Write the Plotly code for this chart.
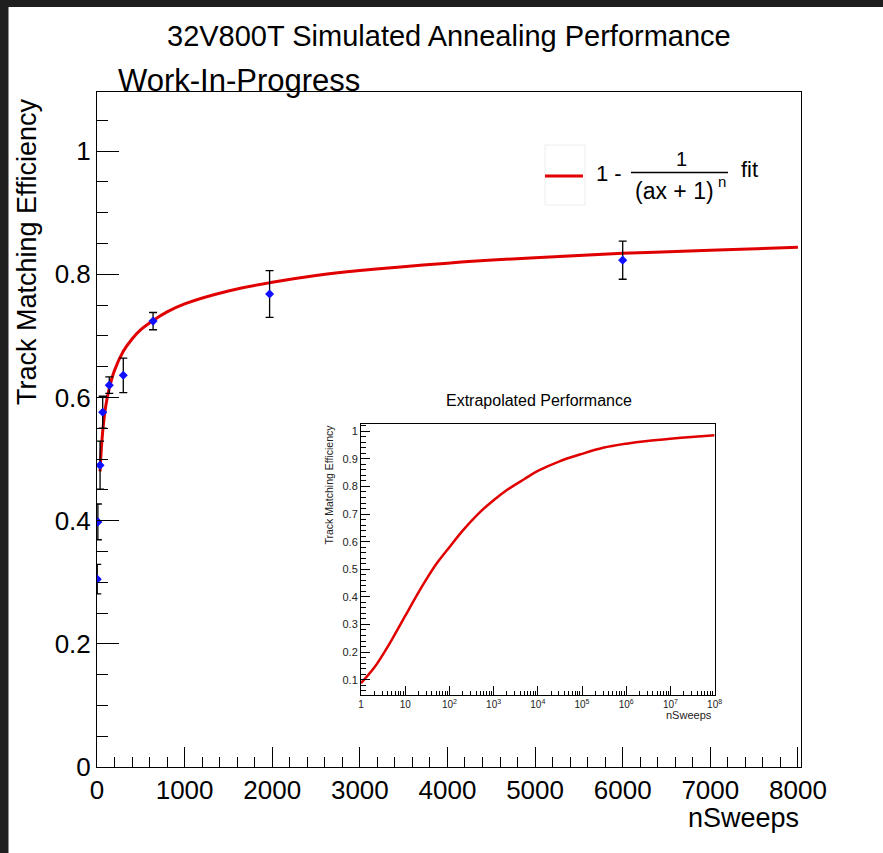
import plotly.graph_objects as go

# ---------------- data ----------------
sweeps = [3, 10, 35, 65, 140, 300, 640, 1970, 6000]
efficiency = [0.305, 0.398, 0.490, 0.576, 0.620, 0.636, 0.724, 0.768, 0.823]
efficiency_err = [0.024, 0.029, 0.039, 0.026, 0.0135, 0.028, 0.014, 0.038, 0.031]

fit_x = [35, 50, 70, 100, 140, 200, 300, 400, 500, 640, 800, 1000, 1500, 2000,
         2500, 3000, 4000, 5000, 6000, 7000, 8000]
fit_y = [0.480, 0.518, 0.552, 0.586, 0.615, 0.644, 0.675, 0.695, 0.710, 0.725,
         0.739, 0.752, 0.773, 0.787, 0.798, 0.806, 0.818, 0.827, 0.834, 0.839, 0.844]

extrap_x = [1, 2, 3, 5, 10, 20, 30, 50, 100, 200, 500, 1e3, 2e3, 5e3, 1e4, 3e4,
            1e5, 3e5, 1e6, 3e6, 1e7, 3e7, 1e8]
extrap_y = [0.087, 0.144, 0.186, 0.245, 0.331, 0.416, 0.463, 0.518, 0.580, 0.640,
            0.708, 0.750, 0.787, 0.827, 0.856, 0.890, 0.918, 0.940, 0.955, 0.965,
            0.973, 0.979, 0.985]

main_xticks = [0, 1000, 2000, 3000, 4000, 5000, 6000, 7000, 8000]
inset_xticks = [1, 10, 1e2, 1e3, 1e4, 1e5, 1e6, 1e7, 1e8]
inset_xticktext = ["1", "10", "10<sup>2</sup>", "10<sup>3</sup>", "10<sup>4</sup>",
                   "10<sup>5</sup>", "10<sup>6</sup>", "10<sup>7</sup>", "10<sup>8</sup>"]

# ---------------- layout helpers (pixel -> paper) ----------------
W, H = 883, 853
L, R, T, B = 97, 801, 92, 767


def px(x):
    return (x - L) / (R - L)


def py(y):
    return (B - y) / (B - T)


FONT = "Liberation Sans, Arial, Helvetica, sans-serif"

fig = go.Figure()

fig.add_trace(go.Scatter(
    x=fit_x, y=fit_y, mode="lines", line=dict(color="#e00000", width=3, shape="spline"),
    showlegend=False, xaxis="x", yaxis="y", hoverinfo="skip"))

fig.add_trace(go.Scatter(
    x=sweeps, y=efficiency, mode="markers",
    marker=dict(symbol="diamond", size=7, color="#1010ff"),
    error_y=dict(type="data", array=efficiency_err, color="black", thickness=1.3, width=4),
    showlegend=False, xaxis="x", yaxis="y"))

fig.add_trace(go.Scatter(
    x=extrap_x, y=extrap_y, mode="lines", line=dict(color="#e00000", width=2.5, shape="spline"),
    showlegend=False, xaxis="x2", yaxis="y2", hoverinfo="skip"))

axis_common = dict(showline=True, linecolor="black", linewidth=1, mirror=True,
                   showgrid=False, zeroline=False, tickcolor="black", ticks="inside",
                   tickfont=dict(family=FONT, color="black"))

fig.update_layout(
    width=W, height=H, autosize=False,
    margin=dict(l=L, r=W - R, t=T, b=H - B),
    paper_bgcolor="white", plot_bgcolor="white",
    font=dict(family=FONT, color="black"),
    showlegend=False,
    xaxis=dict(axis_common, range=[0, 8035], tickvals=main_xticks, ticklen=20, tickwidth=1,
               tickfont=dict(family=FONT, size=26, color="black"),
               minor=dict(dtick=200, tick0=0, ticks="inside", ticklen=10, tickcolor="black")),
    yaxis=dict(axis_common, range=[0, 1.096], dtick=0.2, tick0=0, ticklen=22, tickwidth=1,
               tickfont=dict(family=FONT, size=26, color="black"),
               minor=dict(dtick=0.05, tick0=0, ticks="inside", ticklen=11, tickcolor="black")),
    xaxis2=dict(axis_common, type="log", range=[0, 8], domain=[px(361), px(714.6)], anchor="y2",
                tickmode="array", tickvals=inset_xticks, ticktext=inset_xticktext,
                ticklen=9, tickfont=dict(family=FONT, size=10, color="#222"),
                minor=dict(dtick="D1", ticks="inside", ticklen=4.5, tickcolor="black")),
    yaxis2=dict(axis_common, range=[0.043, 1.028], domain=[py(695.4), py(423.5)], anchor="x2",
                dtick=0.1, tick0=0, ticklen=9, tickfont=dict(family=FONT, size=11, color="#222"),
                minor=dict(dtick=0.02, tick0=0, ticks="inside", ticklen=4.5, tickcolor="black")),
)

shapes = [
    # dark window border (left and top)
    dict(type="rect", xref="paper", yref="paper", x0=px(0), x1=px(8.5), y0=py(H), y1=py(0),
         fillcolor="#1f1f1f", line=dict(width=0), layer="above"),
    dict(type="rect", xref="paper", yref="paper", x0=px(0), x1=px(W), y0=py(7), y1=py(0),
         fillcolor="#1f1f1f", line=dict(width=0), layer="above"),
    # legend box + symbol
    dict(type="rect", xref="paper", yref="paper", x0=px(545), x1=px(585), y0=py(205), y1=py(145),
         line=dict(color="#eeeeee", width=1)),
    dict(type="line", xref="paper", yref="paper", x0=px(545), x1=px(583), y0=py(176), y1=py(176),
         line=dict(color="#e00000", width=3)),
    # fraction bar
    dict(type="line", xref="paper", yref="paper", x0=px(631), x1=px(728), y0=py(172.5), y1=py(172.5),
         line=dict(color="black", width=1.5)),
]
fig.update_layout(shapes=shapes)


def ann(text, x, y, size, xanchor="center", yanchor="middle", angle=0, color="black"):
    return dict(text=text, x=px(x), y=py(y), xref="paper", yref="paper", showarrow=False,
                xanchor=xanchor, yanchor=yanchor, textangle=angle,
                font=dict(family=FONT, size=size, color=color))


annotations = [
    ann("32V800T Simulated Annealing Performance", 449, 36, 29),
    ann("Work-In-Progress", 116, 80, 31, xanchor="left"),
    ann("Track Matching Efficiency", 27, 252, 27, angle=-90),
    ann("nSweeps", 801, 818, 27, xanchor="right"),
    ann("1 -", 609, 173, 22),
    ann("1", 681, 159, 20),
    ann("(ax + 1)", 674, 191, 23),
    ann("n", 722, 181, 15),
    ann("fit", 739, 170, 22, xanchor="left"),
    ann("Extrapolated Performance", 539, 401, 16),
    ann("Track Matching Efficiency", 328.5, 423, 10.5, angle=-90, yanchor="top", color="#222"),
    ann("nSweeps", 714, 715, 11, xanchor="right", color="#222"),
]
fig.update_layout(annotations=annotations)

fig.write_html("out.html")
